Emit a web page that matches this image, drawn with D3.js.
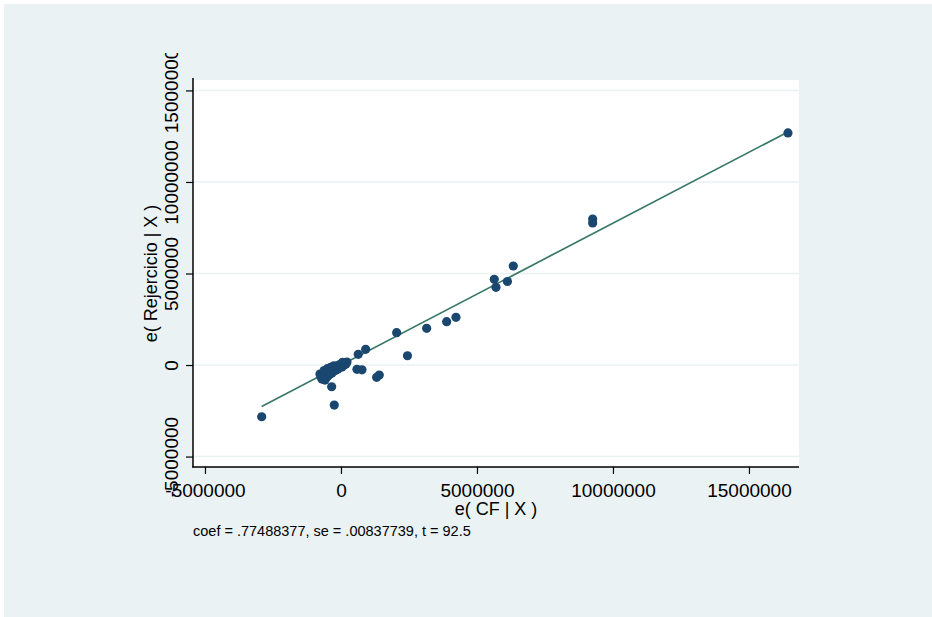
<!DOCTYPE html>
<html>
<head>
<meta charset="utf-8">
<script src="https://cdn.jsdelivr.net/npm/d3@7"></script>
<style>
  html, body { margin: 0; padding: 0; background: #ffffff; }
  svg { display: block; }
  text { font-family: "Liberation Sans", Arial, sans-serif; }
</style>
</head>
<body>
<svg id="chart" width="932" height="617"></svg>
<script>
// ---- data ----
const xTicks = [-5000000, 0, 5000000, 10000000, 15000000];
const yTicks = [-5000000, 0, 5000000, 10000000, 15000000];
const xTitle = "e( CF | X )";
const yTitle = "e( Rejercicio | X )";
const note = "coef = .77488377, se = .00837739, t = 92.5";
const coef = 0.77488377;

// residual pairs [e(CF|X), e(Rejercicio|X)]
const eCF = [
  -2915000, 16434000, 9254000, 9254000, 6335000, 5636000, 5699000, 6121000,
  4228000, 3886000, 3151000, 2048000, 2445000, 1408000, 1312000, 908000,
  636000, 588000, 772000, -246000, -342000, -588000,
  -735000, -662000, -588000, -515000, -441000, -368000, -294000, -221000,
  -147000, -74000, 0, 74000, 147000, 221000, -551000, -404000, -257000,
  -110000, 37000, 110000, -478000, -331000, -184000, -37000, 184000,
  -699000, -772000, -620000, -500000, -380000, -260000, 60000
];
const eRej = [
  -2825000, 12678000, 7978000, 7760000, 5410000, 4683000, 4246000, 4563000,
  2607000, 2366000, 2005000, 1765000, 508000, -546000, -672000, 858000,
  585000, -235000, -260000, -2186000, -1186000, -820000,
  -656000, -546000, -437000, -383000, -328000, -273000, -164000, -109000,
  -55000, 0, 55000, 109000, 109000, 164000, -710000, -492000, -328000,
  -219000, -109000, 0, -601000, -437000, -273000, -55000, 55000,
  -765000, -492000, -300000, -200000, -120000, -40000, 150000
];

// ---- layout ----
const svg = d3.select("#chart");
const W = 932, H = 617;
const plot = { left: 193, right: 799, top: 80, bottom: 467 };
const fmt = d => String(d);

svg.append("rect").attr("x", 4).attr("y", 4).attr("width", W - 4).attr("height", H - 4)
  .attr("fill", "#eaf2f3");

const x = d3.scaleLinear().domain([-5440000, 16840000]).range([plot.left, plot.right]);
const y = d3.scaleLinear().domain([-5570000, 15570000]).range([plot.bottom, plot.top]);

svg.append("rect").attr("x", plot.left).attr("y", plot.top)
  .attr("width", plot.right - plot.left).attr("height", plot.bottom - plot.top)
  .attr("fill", "#ffffff");

// gridlines
svg.append("g").selectAll("line").data(yTicks).join("line")
  .attr("x1", plot.left).attr("x2", plot.right)
  .attr("y1", d => y(d)).attr("y2", d => y(d))
  .attr("stroke", "#eaf2f3").attr("stroke-width", 1.5);

// fitted line
const xs = d3.extent(eCF);
svg.append("line")
  .attr("x1", x(xs[0])).attr("y1", y(coef * xs[0]))
  .attr("x2", x(xs[1])).attr("y2", y(coef * xs[1]))
  .attr("stroke", "#3a7868").attr("stroke-width", 1.7);

// points
const pts = eCF.map((v, i) => [v, eRej[i]]);
svg.append("g").selectAll("circle").data(pts).join("circle")
  .attr("cx", d => x(d[0])).attr("cy", d => y(d[1]))
  .attr("r", 4.6).attr("fill", "#1a476f");

// clip for y axis (top label is cut in the reference); coords in the axis group's space
svg.append("defs").append("clipPath").attr("id", "yclip")
  .append("rect").attr("x", -300).attr("y", 53).attr("width", 600).attr("height", H);

// y axis
const yAxis = d3.axisLeft(y).tickValues(yTicks).tickFormat(fmt).tickSize(7).tickSizeOuter(0);
const gy = svg.append("g").attr("transform", `translate(${plot.left},0)`).call(yAxis)
  .attr("clip-path", "url(#yclip)");
gy.select(".domain").attr("stroke", "#000").attr("stroke-width", 1.5)
  .attr("d", `M0,${plot.top - 2}V${plot.bottom}`);
gy.selectAll(".tick line").attr("stroke", "#000").attr("stroke-width", 1.2);
gy.selectAll(".tick text")
  .attr("font-size", 19).attr("fill", "#000")
  .attr("transform", "rotate(-90)")
  .attr("x", 0).attr("y", -15)
  .attr("dy", 0)
  .attr("text-anchor", "middle");

// x axis
const xAxis = d3.axisBottom(x).tickValues(xTicks).tickFormat(fmt).tickSize(7).tickSizeOuter(0);
const gx = svg.append("g").attr("transform", `translate(0,${plot.bottom})`).call(xAxis);
gx.select(".domain").attr("stroke", "#000").attr("stroke-width", 1.5)
  .attr("d", `M${plot.left - 1},0H${plot.right}`);
gx.selectAll(".tick line").attr("stroke", "#000").attr("stroke-width", 1.2);
gx.selectAll(".tick text").attr("font-size", 19).attr("fill", "#000")
  .attr("y", 30).attr("dy", 0);

// titles
svg.append("text").attr("x", (plot.left + plot.right) / 2).attr("y", 515)
  .attr("text-anchor", "middle").attr("font-size", 18).attr("fill", "#000").text(xTitle);
svg.append("text").attr("transform", `translate(157,${(plot.top + plot.bottom) / 2}) rotate(-90)`)
  .attr("text-anchor", "middle").attr("font-size", 18).attr("fill", "#000").text(yTitle);

svg.append("text").attr("x", 193).attr("y", 536)
  .attr("font-size", 14.5).attr("fill", "#000").text(note);
</script>
</body>
</html>
